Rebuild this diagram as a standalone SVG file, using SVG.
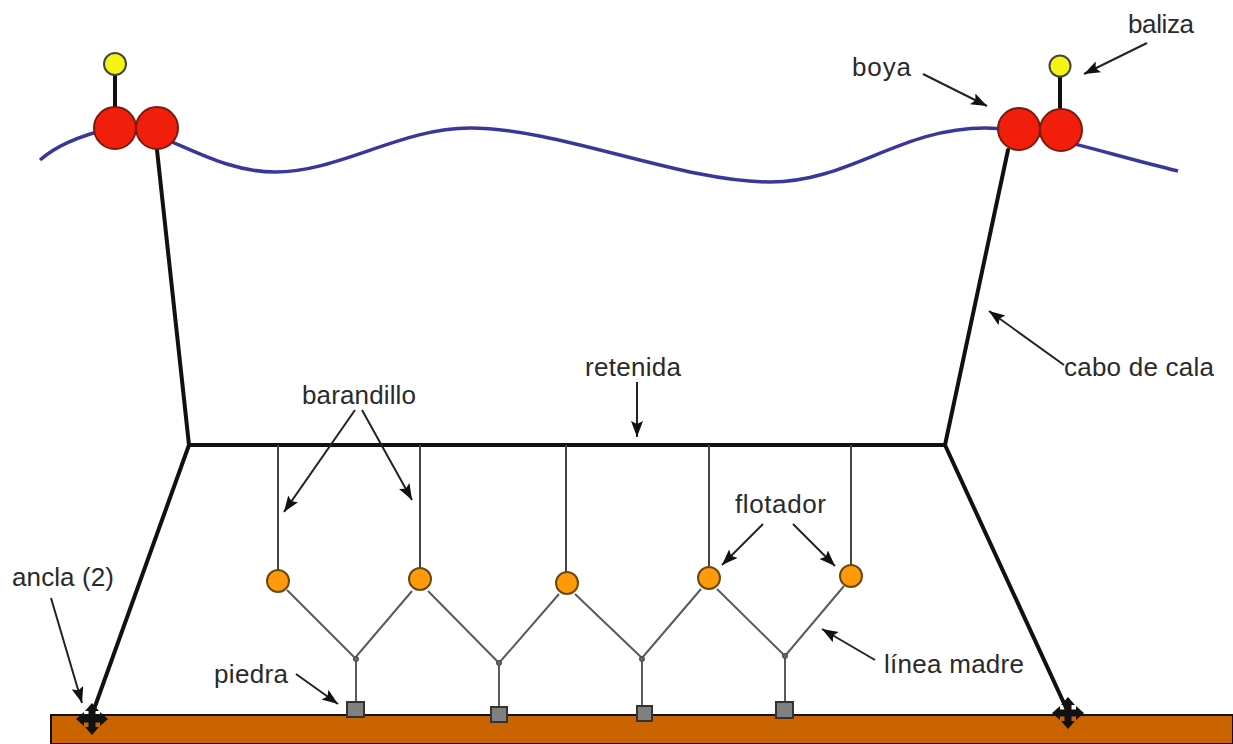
<svg xmlns="http://www.w3.org/2000/svg" width="1233" height="744" viewBox="0 0 1233 744">
<style>
text{font-family:"Liberation Sans",Arial,sans-serif;font-size:26px;fill:#2a2a2a}
.heavy{fill:none;stroke:#111;stroke-width:4;stroke-linecap:round;stroke-linejoin:round}
.thin{fill:none;stroke:#5a5a5a;stroke-width:2}
.drop{fill:none;stroke:#444;stroke-width:2}
.call{fill:none;stroke:#222;stroke-width:2;marker-end:url(#ah)}
.boya{fill:#f01e0a;stroke:#7a1a10;stroke-width:2}
.bal{fill:#f4f414;stroke:#444;stroke-width:2}
.flo{fill:#ff9a0a;stroke:#6b4a10;stroke-width:2}
.pie{fill:#808080;stroke:#333;stroke-width:2}
.knot{fill:#666;stroke:#444;stroke-width:1}
</style>
<defs>
<marker id="ah" markerUnits="userSpaceOnUse" markerWidth="17" markerHeight="13" refX="16" refY="6" orient="auto"><path d="M0,0L16,6L0,12L3,6Z" fill="#111"/></marker>
<g id="anc"><path d="M0,-16L7,-8H3.500V-3.500H8V-7L16,0L8,7V3.500H3.500V8H7L0,16L-7,8H-3.500V3.500H-8V7L-16,0L-8,-7V-3.500H-3.500V-8H-7Z" fill="#111"/></g>
</defs>
<rect id="fondo" x="51" y="715" width="1182" height="29" fill="#c96400" stroke="#111" stroke-width="2"/>
<path id="superficie" d="M40,160C55,147 75,137 115,127C160,125 210,172 275,172C340,172 400,128 470,128C560,128 680,182 770,182C850,182 900,128 985,128C1030,128 1110,155 1178,171" fill="none" stroke="#39379a" stroke-width="3.500"/>
<g id="connectors">
<path class="heavy" d="M157,150L189,445L93,712"/>
<path class="heavy" d="M1008,150L945,445L1068,712"/>
<path class="heavy" d="M189,445H945"/>
<path class="heavy" d="M115,75V108"/>
<path class="heavy" d="M1060,75V108"/>
<path class="drop" d="M278,445V570M420,445V568M566,445V572M709,445V568M851,445V566"/>
<path class="thin" d="M287,590L355,658L412,591M428,591L499,663L559,594M575,594L642,658L701,589M717,589L785,656L844,586"/>
<path class="thin" d="M356,658V702M499,663V706M642,658V706M785,656V702"/>
<path class="call" d="M923,74L987,106"/>
<path class="call" d="M1147,43L1084,74"/>
<path class="call" d="M1064,365L989,311"/>
<path class="call" d="M637,382V437"/>
<path class="call" d="M355,410L284,512"/>
<path class="call" d="M362,410L412,500"/>
<path class="call" d="M763,524L722,565"/>
<path class="call" d="M793,524L835,566"/>
<path class="call" d="M875,660L822,629"/>
<path class="call" d="M296,674L338,704"/>
<path class="call" d="M51,598L82,703"/>
</g>
<g id="boya-izquierda"><circle class="boya" cx="115" cy="128" r="21"/><circle class="boya" cx="157" cy="128" r="21"/></g>
<g id="baliza-izquierda"><circle class="bal" cx="115" cy="64" r="11"/></g>
<g id="boya-derecha"><circle class="boya" cx="1019" cy="129" r="21"/><circle class="boya" cx="1061" cy="130" r="21"/></g>
<g id="baliza-derecha"><circle class="bal" cx="1060" cy="66" r="10.500"/></g>
<g id="flotador-1"><circle class="flo" cx="278" cy="581" r="11"/></g>
<g id="flotador-2"><circle class="flo" cx="420" cy="579" r="11"/></g>
<g id="flotador-3"><circle class="flo" cx="567" cy="583" r="11"/></g>
<g id="flotador-4"><circle class="flo" cx="709" cy="578" r="11"/></g>
<g id="flotador-5"><circle class="flo" cx="851" cy="576" r="11"/></g>
<g id="nudos"><circle class="knot" cx="356" cy="659" r="2.500"/><circle class="knot" cx="499" cy="663" r="2.500"/><circle class="knot" cx="642" cy="659" r="2.500"/><circle class="knot" cx="785" cy="656" r="2.500"/></g>
<g id="piedra-1"><rect class="pie" x="347" y="702" width="17" height="15"/></g>
<g id="piedra-2"><rect class="pie" x="491" y="707" width="16" height="15"/></g>
<g id="piedra-3"><rect class="pie" x="637" y="706" width="15" height="15"/></g>
<g id="piedra-4"><rect class="pie" x="776" y="702" width="17" height="16"/></g>
<g id="ancla-1"><use href="#anc" x="92" y="719"/></g>
<g id="ancla-2"><use href="#anc" x="1068" y="713"/></g>
<g id="labels">
<text x="1128" y="33" textLength="66" lengthAdjust="spacing">baliza</text>
<text x="852" y="76" textLength="59" lengthAdjust="spacing">boya</text>
<text x="1064" y="376" textLength="150" lengthAdjust="spacing">cabo de cala</text>
<text x="585" y="376" textLength="96" lengthAdjust="spacing">retenida</text>
<text x="302" y="404" textLength="114" lengthAdjust="spacing">barandillo</text>
<text x="735" y="513" textLength="91" lengthAdjust="spacing">flotador</text>
<text x="884" y="673" textLength="140" lengthAdjust="spacing">línea madre</text>
<text x="214" y="683" textLength="74" lengthAdjust="spacing">piedra</text>
<text x="12" y="586" textLength="102" lengthAdjust="spacing">ancla (2)</text>
</g>
</svg>
